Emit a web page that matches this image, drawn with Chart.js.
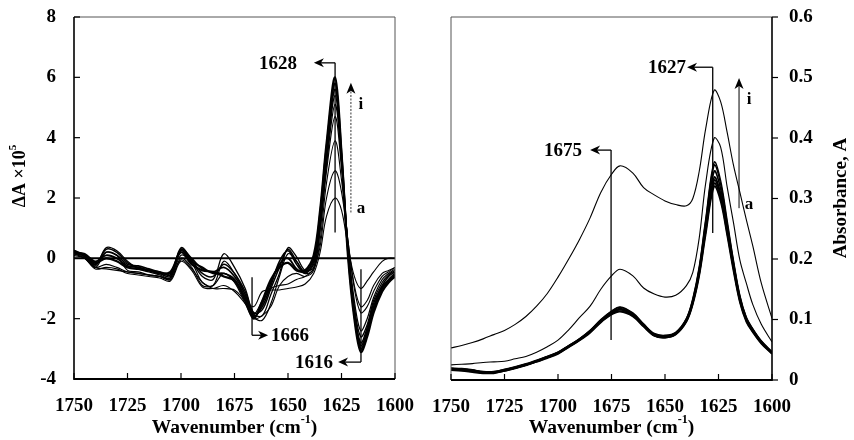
<!DOCTYPE html>
<html>
<head>
<meta charset="utf-8">
<script src="https://cdn.jsdelivr.net/npm/chart.js@4.4.1/dist/chart.umd.min.js"></script>
<style>
  body { margin: 0; background: #fff; }
  #wrap { position: relative; width: 854px; height: 440px; background: #fff; }
  #left { position: absolute; left: 0; top: 0; }
  #right { position: absolute; left: 427px; top: 0; }
</style>
</head>
<body>
<div id="wrap">
  <canvas id="left" width="420" height="440"></canvas>
  <canvas id="right" width="427" height="440"></canvas>
</div>
<script>
var FONT = "'Liberation Serif', 'Times New Roman', serif";

// ---- left panel: difference spectra a..i (dA x 10^5)
var wnDiff = [1750,1745,1740,1735,1730,1725,1720,1715,1710,1705,1700,1695,1690,1685,1680,1675,1670,1666,1662,1658,1654,1650,1646,1642,1638,1635,1632,1628,1625,1622,1619,1616,1613,1610,1606,1603,1600];
var diffA = [0.2,0.0,-0.3,-0.35,-0.4,-0.45,-0.5,-0.55,-0.6,-0.7,-0.05,-0.35,-0.8,-1.0,-1.0,-1.05,-1.4,-1.6,-1.1,-1.05,-1.05,-1.0,-0.95,-0.85,-0.5,0.2,1.4,2.0,1.6,0.4,-0.6,-1.0,-0.75,-0.45,-0.1,0.0,0.0];
var diffB = [0.15,0.0,-0.35,-0.3,-0.35,-0.5,-0.55,-0.6,-0.65,-0.75,-0.1,-0.4,-0.95,-1.0,-0.9,-1.1,-1.5,-1.85,-1.4,-1.0,-0.9,-0.85,-0.7,-0.6,-0.35,0.4,2.0,2.9,2.2,0.6,-0.9,-1.6,-1.4,-0.9,-0.5,-0.4,-0.3];
var diffC = [0.2,0.05,-0.3,-0.2,-0.3,-0.45,-0.5,-0.55,-0.6,-0.7,0.0,-0.3,-0.9,-0.9,-0.5,-0.8,-1.5,-2.0,-1.9,-1.6,-0.9,-0.6,-0.5,-0.6,-0.4,0.6,2.5,3.9,2.6,0.6,-1.0,-1.8,-1.6,-1.1,-0.6,-0.45,-0.3];
var diffD = [0.1,0.0,-0.3,0.2,0.1,-0.4,-0.45,-0.55,-0.6,-0.65,0.1,-0.15,-0.8,-0.9,-0.1,-0.5,-1.2,-1.95,-2.05,-1.5,-0.6,0.15,-0.1,-0.5,-0.35,0.9,2.9,4.7,3.0,0.5,-1.4,-2.4,-2.0,-1.3,-0.7,-0.5,-0.35];
var diffE = [0.15,0.1,-0.25,0.35,0.25,-0.1,-0.35,-0.45,-0.55,-0.65,0.3,-0.1,-0.6,-0.7,0.15,-0.3,-1.0,-1.85,-1.9,-1.2,-0.5,0.35,0.05,-0.4,-0.3,1.0,3.1,5.1,3.2,0.4,-1.6,-2.6,-2.2,-1.4,-0.8,-0.55,-0.4];
var diffF = [0.2,0.1,-0.2,0.3,0.2,-0.15,-0.3,-0.4,-0.5,-0.6,0.35,-0.05,-0.5,-0.6,-0.2,-0.5,-1.1,-1.8,-1.7,-1.0,-0.3,0.3,-0.1,-0.45,-0.2,1.2,3.3,5.4,3.3,0.3,-1.7,-2.8,-2.3,-1.5,-0.9,-0.6,-0.45];
var diffG = [0.25,0.05,-0.2,0.2,0.1,-0.2,-0.25,-0.35,-0.45,-0.55,0.3,0.0,-0.35,-0.45,-0.3,-0.6,-1.2,-1.9,-1.6,-0.9,-0.1,0.25,-0.2,-0.5,-0.1,1.3,3.5,5.6,3.4,0.3,-1.8,-2.9,-2.4,-1.6,-0.95,-0.7,-0.5];
var diffH = [0.2,0.15,-0.1,0.1,0.0,-0.25,-0.3,-0.4,-0.45,-0.5,0.25,-0.1,-0.3,-0.5,-0.5,-0.7,-1.3,-1.95,-1.5,-0.8,-0.2,0.0,-0.35,-0.45,0.0,1.5,3.7,5.8,3.5,0.2,-1.9,-3.0,-2.5,-1.7,-1.0,-0.75,-0.55];
var diffI = [0.25,0.1,-0.15,0.0,-0.1,-0.3,-0.35,-0.4,-0.5,-0.45,0.2,-0.2,-0.4,-0.45,-0.6,-0.75,-1.4,-2.0,-1.4,-0.7,-0.3,-0.15,-0.4,-0.4,0.1,1.6,3.8,6.0,3.5,0.1,-2.0,-3.1,-2.6,-1.8,-1.1,-0.8,-0.6];

// ---- right panel: absorbance spectra
var wnAbs = [1750,1745,1740,1735,1730,1725,1720,1715,1710,1705,1700,1695,1690,1685,1680,1675,1671,1665,1660,1655,1650,1645,1640,1637,1634,1631,1627,1624,1621,1618,1615,1612,1609,1605,1600];
var absTop = [0.053,0.057,0.062,0.068,0.075,0.082,0.092,0.105,0.122,0.143,0.170,0.200,0.232,0.268,0.31,0.34,0.354,0.342,0.318,0.306,0.296,0.29,0.288,0.30,0.345,0.415,0.479,0.46,0.41,0.355,0.31,0.265,0.222,0.16,0.102];
var absMid = [0.025,0.026,0.027,0.029,0.030,0.031,0.035,0.039,0.046,0.055,0.066,0.083,0.103,0.122,0.15,0.172,0.183,0.172,0.152,0.142,0.137,0.14,0.156,0.178,0.235,0.325,0.40,0.385,0.32,0.26,0.198,0.16,0.125,0.092,0.063];
var absB1 = [0.016,0.015,0.013,0.011,0.011,0.015,0.019,0.024,0.030,0.036,0.043,0.054,0.065,0.078,0.095,0.108,0.113,0.105,0.088,0.073,0.070,0.075,0.096,0.125,0.172,0.24,0.32,0.295,0.24,0.18,0.128,0.096,0.079,0.060,0.043];
var absB2 = [0.017,0.016,0.014,0.012,0.012,0.015,0.020,0.025,0.030,0.037,0.044,0.055,0.066,0.079,0.096,0.109,0.114,0.106,0.089,0.073,0.070,0.076,0.097,0.127,0.175,0.245,0.325,0.30,0.244,0.184,0.13,0.098,0.080,0.061,0.044];
var absB3 = [0.018,0.017,0.015,0.012,0.012,0.016,0.020,0.025,0.031,0.037,0.044,0.055,0.066,0.080,0.097,0.110,0.116,0.107,0.090,0.074,0.071,0.076,0.098,0.128,0.177,0.248,0.33,0.305,0.247,0.186,0.132,0.099,0.081,0.062,0.044];
var absB4 = [0.018,0.017,0.015,0.013,0.013,0.016,0.020,0.025,0.031,0.038,0.045,0.056,0.067,0.081,0.098,0.111,0.117,0.108,0.091,0.075,0.072,0.077,0.099,0.129,0.179,0.251,0.335,0.308,0.25,0.188,0.134,0.1,0.082,0.062,0.045];
var absB5 = [0.019,0.018,0.016,0.013,0.013,0.017,0.021,0.026,0.032,0.038,0.045,0.056,0.067,0.081,0.098,0.112,0.118,0.109,0.091,0.075,0.072,0.077,0.100,0.131,0.182,0.256,0.345,0.316,0.255,0.192,0.136,0.101,0.083,0.063,0.045];
var absB6 = [0.019,0.018,0.016,0.014,0.014,0.017,0.021,0.026,0.032,0.039,0.046,0.057,0.068,0.082,0.099,0.113,0.120,0.110,0.092,0.076,0.073,0.078,0.101,0.133,0.185,0.262,0.355,0.324,0.26,0.195,0.138,0.103,0.084,0.064,0.046];
var absB7 = [0.020,0.019,0.017,0.014,0.014,0.018,0.022,0.027,0.033,0.039,0.046,0.057,0.068,0.082,0.100,0.114,0.121,0.111,0.093,0.077,0.074,0.079,0.102,0.135,0.188,0.266,0.36,0.33,0.265,0.198,0.14,0.104,0.085,0.065,0.047];

// ticks
var xTicks = [1750,1725,1700,1675,1650,1625,1600];
var diffTicks = [-4,-2,0,2,4,6,8];
var absTicks = [0,0.1,0.2,0.3,0.4,0.5,0.6];

// peak markers (data units)
var diffMarks = [
  { wn: 1628, from: 0.86, to: 6.48, tip: 1637.9, label: '1628', dir: 'left', gap: 17 },
  { wn: 1666.8, from: -0.63, to: -2.55, tip: 1659.3, label: '1666', dir: 'right', gap: 3 },
  { wn: 1615.9, from: -0.36, to: -3.44, tip: 1626.6, label: '1616', dir: 'left', gap: 5 }
];
var absMarks = [
  { wn: 1675.2, from: 0.066, to: 0.38, tip: 1685, label: '1675', dir: 'left', gap: 8 },
  { wn: 1627.7, from: 0.243, to: 0.517, tip: 1639.7, label: '1627', dir: 'left', gap: 1 }
];
var diffArrow = { wn: 1620.6, from: 1.52, to: 5.82, dashed: true };
var absArrow = { wn: 1615.4, from: 0.284, to: 0.499, dashed: false };

function pts(xs, ys) {
  var out = [];
  for (var i = 0; i < xs.length; i++) out.push({ x: xs[i], y: ys[i] });
  return out;
}

function seg(ctx, x1, y1, x2, y2) {
  ctx.beginPath(); ctx.moveTo(x1, y1); ctx.lineTo(x2, y2); ctx.stroke();
}

function head(ctx, x, y, dir) {
  ctx.beginPath();
  if (dir === 'left') { ctx.moveTo(x, y); ctx.lineTo(x + 10, y - 4.5); ctx.lineTo(x + 7, y); ctx.lineTo(x + 10, y + 4.5); }
  else if (dir === 'right') { ctx.moveTo(x, y); ctx.lineTo(x - 10, y - 4.5); ctx.lineTo(x - 7, y); ctx.lineTo(x - 10, y + 4.5); }
  else { ctx.moveTo(x, y); ctx.lineTo(x - 4.5, y + 11); ctx.lineTo(x, y + 8); ctx.lineTo(x + 4.5, y + 11); }
  ctx.closePath(); ctx.fill();
}

// text with a superscript part: parts = [[text, sup?], ...], centred at 0,0
function supText(ctx, parts, size) {
  var w = 0, i;
  for (i = 0; i < parts.length; i++) {
    ctx.font = 'bold ' + (parts[i][1] ? size * 0.62 : size) + 'px ' + FONT;
    w += ctx.measureText(parts[i][0]).width;
  }
  var x = -w / 2;
  ctx.textAlign = 'left'; ctx.textBaseline = 'middle';
  for (i = 0; i < parts.length; i++) {
    ctx.font = 'bold ' + (parts[i][1] ? size * 0.62 : size) + 'px ' + FONT;
    ctx.fillText(parts[i][0], x, parts[i][1] ? -size * 0.4 : 0);
    x += ctx.measureText(parts[i][0]).width;
  }
}

function makeDeco(cfg) {
  return {
    id: 'deco',
    beforeDatasetsDraw: function (chart) {
      if (!cfg.zeroLine) return;
      var ctx = chart.ctx, a = chart.chartArea;
      var yz = chart.scales.y.getPixelForValue(0);
      ctx.save();
      ctx.strokeStyle = '#000'; ctx.lineWidth = 2;
      seg(ctx, a.left, yz, a.right, yz);
      ctx.restore();
    },
    afterDraw: function (chart) {
      var ctx = chart.ctx, a = chart.chartArea;
      var xs = chart.scales.x, ys = chart.scales.y;
      var i;
      ctx.save();
      ctx.fillStyle = '#000';
      // frame
      ctx.strokeStyle = '#555'; ctx.lineWidth = 1;
      seg(ctx, a.left, a.top, a.right, a.top);
      if (cfg.side === 'left') seg(ctx, a.right, a.top, a.right, a.bottom);
      else seg(ctx, a.left, a.top, a.left, a.bottom);
      ctx.strokeStyle = '#000'; ctx.lineWidth = 1.6;
      var ax = cfg.side === 'left' ? a.left : a.right;
      seg(ctx, ax, a.top, ax, a.bottom + 1);
      ctx.lineWidth = 2;
      seg(ctx, a.left, a.bottom, a.right, a.bottom);
      // tick marks
      ctx.lineWidth = 1.2;
      for (i = 0; i < xTicks.length; i++) {
        var px = xs.getPixelForValue(xTicks[i]);
        seg(ctx, px, a.bottom, px, a.bottom - 6);
      }
      for (i = 0; i < cfg.yTicks.length; i++) {
        var py = ys.getPixelForValue(cfg.yTicks[i]);
        seg(ctx, ax, py, ax + 6, py);
      }
      // peak markers
      ctx.lineWidth = 1.3;
      ctx.font = 'bold 19px ' + FONT;
      ctx.textBaseline = 'middle';
      for (i = 0; i < cfg.marks.length; i++) {
        var m = cfg.marks[i];
        var mx = xs.getPixelForValue(m.wn);
        var y1 = ys.getPixelForValue(m.from), y2 = ys.getPixelForValue(m.to);
        var tx = xs.getPixelForValue(m.tip);
        seg(ctx, mx, y1, mx, y2);
        seg(ctx, mx, y2, m.dir === 'left' ? tx + 7 : tx - 7, y2);
        head(ctx, tx, y2, m.dir);
        if (m.dir === 'left') { ctx.textAlign = 'right'; ctx.fillText(m.label, tx - m.gap, y2 + 1); }
        else { ctx.textAlign = 'left'; ctx.fillText(m.label, tx + m.gap, y2 + 1); }
      }
      // a -> i arrow
      var ar = cfg.arrow;
      var axp = xs.getPixelForValue(ar.wn);
      var ab = ys.getPixelForValue(ar.from), at = ys.getPixelForValue(ar.to);
      ctx.lineWidth = 1;
      ctx.strokeStyle = ar.dashed ? '#333' : '#000';
      if (ar.dashed) ctx.setLineDash([2, 1.5]);
      seg(ctx, axp, ab, axp, at + 8);
      ctx.setLineDash([]);
      head(ctx, axp, at, 'up');
      ctx.font = 'bold 17px ' + FONT;
      ctx.textAlign = 'center';
      ctx.fillText('i', axp + 10, at + 22);
      ctx.fillText('a', axp + 10, ab - 4);
      // axis titles
      ctx.save();
      ctx.translate((a.left + a.right) / 2, 428);
      supText(ctx, [['Wavenumber (cm', false], ['-1', true], [')', false]], 19.5);
      ctx.restore();
      ctx.save();
      ctx.translate(cfg.yTitleX, cfg.yTitleY);
      ctx.rotate(-Math.PI / 2);
      supText(ctx, cfg.yTitle, cfg.yTitleSize);
      ctx.restore();
      ctx.restore();
    }
  };
}

function baseOptions(cfg) {
  var tickFont = { family: FONT, size: 19, weight: 'bold' };
  return {
    responsive: false,
    animation: false,
    layout: { padding: cfg.padding },
    plugins: { legend: { display: false }, tooltip: { enabled: false } },
    elements: { point: { radius: 0 }, line: { tension: 0.35, borderColor: '#000', borderWidth: 1.1 } },
    scales: {
      x: {
        type: 'linear', reverse: true, min: 1600, max: 1750,
        afterFit: function (s) { s.height = cfg.xHeight; s.paddingLeft = 0; s.paddingRight = 0; },
        afterBuildTicks: function (s) { s.ticks = xTicks.map(function (v) { return { value: v }; }); },
        grid: { display: false, drawTicks: false },
        border: { display: false },
        ticks: { font: tickFont, color: '#000', padding: 16, maxRotation: 0, autoSkip: false,
                 callback: function (v) { return String(v); } }
      },
      y: {
        position: cfg.side,
        min: cfg.yTicks[0], max: cfg.yTicks[cfg.yTicks.length - 1],
        afterFit: function (s) { s.width = cfg.yWidth; s.paddingTop = 0; s.paddingBottom = 0; },
        afterBuildTicks: function (s) { s.ticks = cfg.yTicks.map(function (v) { return { value: v }; }); },
        grid: { display: false, drawTicks: false },
        border: { display: false },
        ticks: { font: tickFont, color: '#000', padding: cfg.yPad, autoSkip: false,
                 callback: function (v) { return String(v); } }
      }
    }
  };
}

function makeSets(xs, list) {
  return list.map(function (s) {
    return { data: pts(xs, s[0]), borderWidth: s[1], borderColor: '#000', fill: false };
  });
}

var leftCfg = {
  side: 'left', yTicks: diffTicks, marks: diffMarks, arrow: diffArrow, zeroLine: true,
  padding: { top: 17, right: 25, left: 0, bottom: 0 }, xHeight: 61, yWidth: 74, yPad: 18,
  yTitle: [['\u0394A \u00d710', false], ['5', true]], yTitleX: 20, yTitleY: 176, yTitleSize: 18
};
new Chart(document.getElementById('left'), {
  type: 'line',
  data: { datasets: makeSets(wnDiff, [
    [diffA, 1.1], [diffB, 1.1], [diffC, 1.1], [diffD, 1.2], [diffE, 1.3],
    [diffF, 1.5], [diffG, 1.6], [diffH, 1.8], [diffI, 2.2]
  ]) },
  options: baseOptions(leftCfg),
  plugins: [makeDeco(leftCfg)]
});

var rightCfg = {
  side: 'right', yTicks: absTicks, marks: absMarks, arrow: absArrow, zeroLine: false,
  padding: { top: 17, right: 0, left: 24, bottom: 0 }, xHeight: 60, yWidth: 82, yPad: 17,
  yTitle: [['Absorbance, A', false]], yTitleX: 414, yTitleY: 198, yTitleSize: 19
};
new Chart(document.getElementById('right'), {
  type: 'line',
  data: { datasets: makeSets(wnAbs, [
    [absTop, 1.1], [absMid, 1.1], [absB1, 1.6], [absB2, 1.6], [absB3, 1.6],
    [absB4, 1.6], [absB5, 1.6], [absB6, 1.4], [absB7, 1.3]
  ]) },
  options: baseOptions(rightCfg),
  plugins: [makeDeco(rightCfg)]
});
</script>
</body>
</html>
